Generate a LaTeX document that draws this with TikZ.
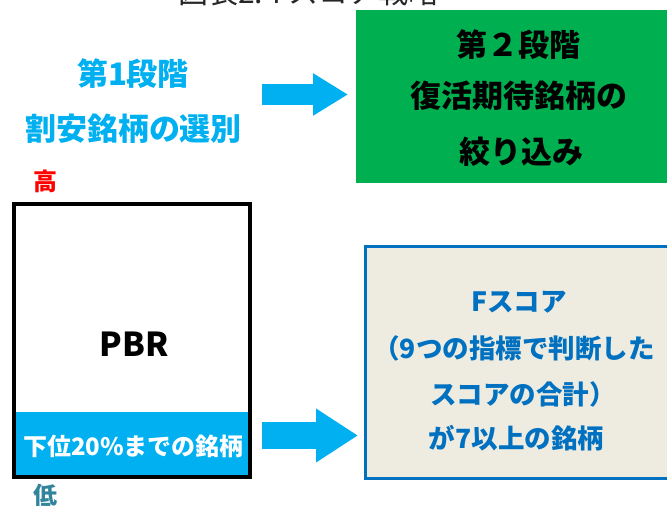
\documentclass[tikz,border=0pt]{standalone}
\usepackage{fontspec}
\setmainfont{Noto Sans CJK JP}
\usetikzlibrary{arrows.meta}
\definecolor{cyanA}{HTML}{00B0F0}
\definecolor{greenA}{HTML}{00B050}
\definecolor{beigeA}{HTML}{EEECE1}
\definecolor{blueA}{HTML}{0070C0}
\definecolor{tealA}{HTML}{31849B}
\tikzset{
  txt/.style={inner sep=0pt, outer sep=0pt, font=\bfseries\fontsize{#1}{#1}\selectfont},
  bigarrow/.style={draw=cyanA, line width=#1},
}
\begin{document}
\begin{tikzpicture}[x=1pt,y=-1pt]
\useasboundingbox (0,0) rectangle (667,506);
\clip (0,0) rectangle (667,506);
% title (cut off at top)
\node[inner sep=0pt, anchor=base, font=\fontsize{30}{30}\selectfont, text=black!85] (title) at (308.5,4) {図表2: Fスコア戦略};
% stage 1 text
\node[txt=31, text=cyanA] (s1a) at (133,74) {第1段階};
\node[txt=31, text=cyanA] (s1b) at (133.5,128.5) {割安銘柄の選別};
% stage 2 box
\fill[greenA] (356,10) rectangle (680,183);
\node[txt=31] (s2a) at (518,45) {第２段階};
\node[txt=31] (s2b) at (519,96) {復活期待銘柄の};
\node[txt=31] (s2c) at (521,152) {絞り込み};
% high / low
\node[txt=24, text=red] (hi) at (45,181) {高};
\node[txt=24, text=tealA] (lo) at (46,495) {低};
% PBR box
\fill[cyanA] (14,412) rectangle (250,477);
\draw[line width=4pt] (14,204) rectangle (250,477);
\node[txt=33] (pbr) at (134,344) {PBR};
\node[txt=24, text=white] (low20) at (133.5,446) {下位20\%までの銘柄};
% F-score box
\draw[blueA, fill=beigeA, line width=3pt] (365.5,246.5) rectangle (690,478.5);
\node[txt=26.5, text=blueA] (f1) at (519,302) {Fスコア};
\node[txt=26.5, text=blueA] (f2) at (514,348) {（9つの指標で判断した};
\node[txt=26.5, text=blueA] (f3) at (523,394) {スコアの合計）};
\node[txt=26.5, text=blueA] (f4) at (516.5,438) {が7以上の銘柄};
% arrows
\coordinate (a1s) at (262,94.5);
\coordinate (a1e) at (348,94.5);
\coordinate (a2s) at (262,435.5);
\coordinate (a2e) at (358,435.5);
\draw[bigarrow=21pt, -{Triangle[length=35pt,width=40pt,fill=cyanA]}] (a1s) -- (a1e);
\draw[bigarrow=27pt, -{Triangle[length=42pt,width=51pt,fill=cyanA]}] (a2s) -- (a2e);
\end{tikzpicture}
\end{document}
